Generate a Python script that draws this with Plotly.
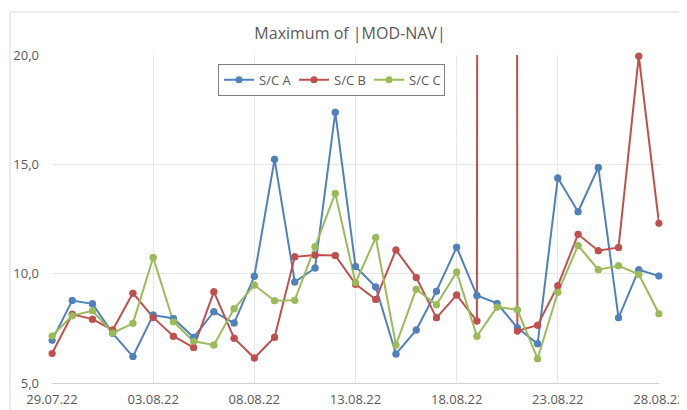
import pandas as pd
import plotly.graph_objects as go

dates = pd.date_range("2022-07-29", "2022-08-28", freq="D")

sc_a = [6.95, 8.77, 8.62, 7.27, 6.21, 8.11, 7.95, 7.09, 8.26, 7.74, 9.88, 15.23, 9.62, 10.26, 17.38,
        10.33, 9.39, 6.33, 7.42, 9.20, 11.21, 9.00, 8.64, 7.53, 6.79, 14.38, 12.83, 14.86, 7.98, 10.18, 9.89]
sc_b = [6.35, 8.14, 7.92, 7.42, 9.11, 8.00, 7.14, 6.62, 9.17, 7.05, 6.14, 7.09, 10.77, 10.85, 10.83,
        9.52, 8.82, 11.08, 9.83, 7.98, 9.02, 7.83, 1000.0, 7.38, 7.64, 9.45, 11.80, 11.05, 11.20, 19.95, 12.30]
sc_c = [7.15, 8.08, 8.30, 7.29, 7.73, 10.74, 7.80, 6.91, 6.74, 8.39, 9.48, 8.76, 8.79, 11.23, 13.67,
        9.58, 11.65, 6.74, 9.29, 8.58, 10.08, 7.14, 8.48, 8.35, 6.11, 9.15, 11.29, 10.18, 10.36, 9.97, 8.17]

names = ["S/C A", "S/C B", "S/C C"]
colors = ["#4F81BD", "#C0504D", "#9BBB59"]
series = [sc_a, sc_b, sc_c]

FONT = "Open Sans"
GREY = "#595959"

# page body has an 8px margin, so the figure is sized/placed to compensate
W, H = 679, 402
ML, MR, MT, MB = 44, 28, 47, 27
PW, PH = W - ML - MR, H - MT - MB

fig = go.Figure()
for name, col, vals in zip(names, colors, series):
    fig.add_trace(go.Scatter(
        x=dates, y=vals, name=name, mode="lines+markers",
        line=dict(color=col, width=2),
        marker=dict(color=col, size=7),
    ))
for name, col, vals in zip(names, colors, series):
    fig.add_trace(go.Scatter(
        x=dates, y=vals, name=name, mode="markers", showlegend=False,
        marker=dict(color=col, size=7), cliponaxis=False, hoverinfo="skip",
    ))

fig.update_layout(
    width=W, height=H,
    margin=dict(l=ML, r=MR, t=MT, b=MB, autoexpand=False),
    paper_bgcolor="white", plot_bgcolor="white",
    separators=",.",
    font=dict(family=FONT, size=13, color=GREY),
    title=dict(text="Maximum of |MOD-NAV|", x=0.491, xref="paper", xanchor="center",
               y=1 - 25 / H, yref="container", yanchor="middle",
               font=dict(family=FONT, size=16, color=GREY)),
    showlegend=True,
    legend=dict(orientation="h", x=0.4605, xanchor="center", y=0.973, yanchor="top",
                bordercolor="#7F7F7F", borderwidth=1, bgcolor="white",
                font=dict(family=FONT, size=13, color=GREY), itemwidth=30,
                entrywidth=30, tracegroupgap=0),
    xaxis=dict(
        range=[dates[0], dates[-1]], automargin=False,
        tick0=dates[0], dtick=5 * 86400000, tickformat="%d.%m.%y",
        showgrid=True, gridcolor="#E6E6E6", gridwidth=1,
        showline=True, linecolor="#D0D0D0", linewidth=1,
        zeroline=False, ticks="", ticklabelstandoff=4,
        tickfont=dict(family=FONT, size=13, color=GREY),
    ),
    yaxis=dict(
        range=[5, 20], dtick=5, tick0=5, tickformat=".1f", automargin=False,
        showgrid=True, gridcolor="#E6E6E6", gridwidth=1,
        showline=False, zeroline=False, ticks="", ticklabelstandoff=12,
        tickfont=dict(family=FONT, size=13, color=GREY),
    ),
    shapes=[dict(type="rect", xref="paper", yref="paper",
                 x0=(2 - ML) / PW, x1=1.2, y0=-0.3, y1=(H - MB - 4) / PH,
                 line=dict(color="#D9D9D9", width=1), fillcolor="rgba(0,0,0,0)", layer="below")],
)

fig.write_html("out.html")
